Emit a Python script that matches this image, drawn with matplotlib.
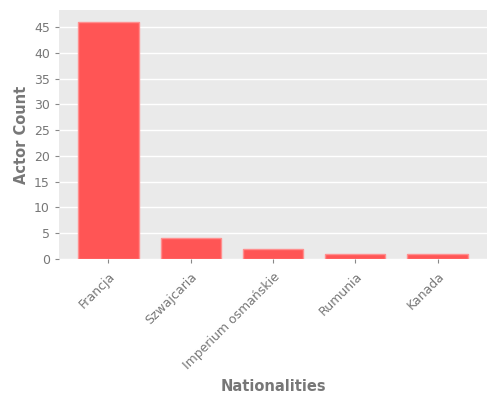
import matplotlib
matplotlib.use("Agg")
import matplotlib.pyplot as plt

nationalities = ["Francja", "Szwajcaria", "Imperium osmańskie", "Rumunia", "Kanada"]
actor_counts = [46, 4, 2, 1, 1]

fig = plt.figure(figsize=(5, 4), dpi=100)
ax = fig.add_axes([0.118, 0.3525, 0.856, 0.6225])
ax.set_facecolor("#eaeaea")
ax.bar(range(len(nationalities)), actor_counts, width=0.73,
       color="#ff5555", edgecolor="#ff8f8f", linewidth=1, zorder=3)

ax.grid(axis="y", color="white", linewidth=1, zorder=0)
ax.set_axisbelow(True)
for s in ax.spines.values():
    s.set_visible(False)

ax.set_xticks(range(len(nationalities)))
ax.set_xticklabels(nationalities, rotation=45, ha="right", rotation_mode="anchor")
ax.set_yticks(range(0, 50, 5))
ax.tick_params(colors="#888888", labelcolor="#777777", labelsize=9, length=3)
ax.tick_params(axis="x", pad=5)

ax.set_xlabel("Nationalities", fontsize=10.5, fontweight="bold", color="#777777", labelpad=5)
ax.set_ylabel("Actor Count", fontsize=10.5, fontweight="bold", color="#777777")

fig.savefig("out.png", dpi=100)
